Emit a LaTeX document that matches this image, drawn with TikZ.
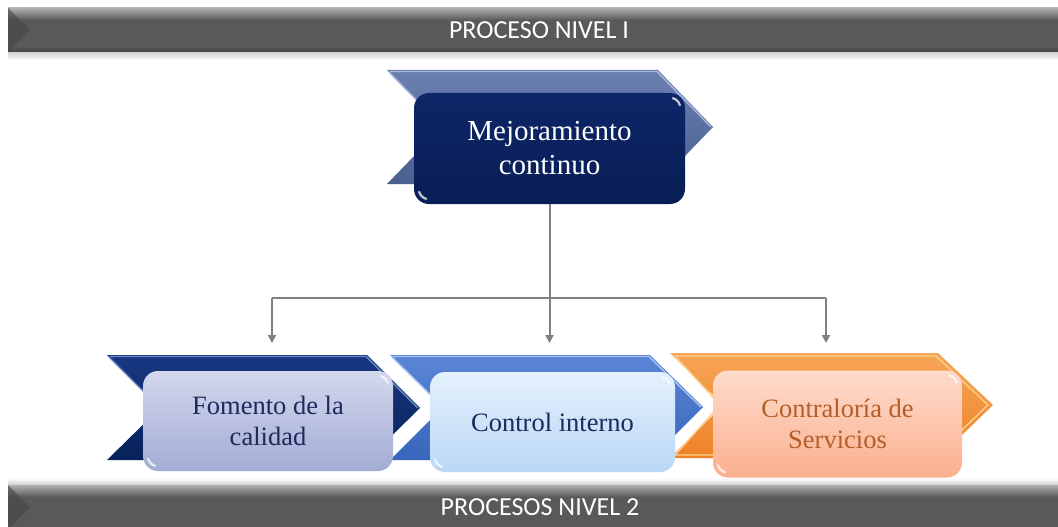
\documentclass[tikz,border=0pt]{standalone}
\usepackage{fontspec}
\setmainfont{Liberation Serif}
\newfontfamily\barfont{Carlito}
\usetikzlibrary{arrows.meta,calc}
\definecolor{barbody}{HTML}{595959}
\definecolor{bartop}{HTML}{B0B0B0}
\definecolor{bardark}{HTML}{454545}
\definecolor{linegrey}{HTML}{808080}
\definecolor{navytext}{HTML}{1B2B5C}
\definecolor{orangetext}{HTML}{B45E2A}
\definecolor{tchevT}{HTML}{6B7FB0}
\definecolor{tchevB}{HTML}{4B5F90}
\definecolor{tchevE}{HTML}{A8B8DC}
\definecolor{mcT}{HTML}{0D2667}
\definecolor{mcB}{HTML}{091E56}
\definecolor{chAT}{HTML}{183882}
\definecolor{chAB}{HTML}{08225A}
\definecolor{chAE}{HTML}{6C88C4}
\definecolor{chBT}{HTML}{5B86D6}
\definecolor{chBB}{HTML}{3866BB}
\definecolor{chBE}{HTML}{A6C2EE}
\definecolor{chCT}{HTML}{F7A556}
\definecolor{chCB}{HTML}{EE8228}
\definecolor{chCE}{HTML}{FCD08A}
\definecolor{bxAT}{HTML}{D3D8ED}
\definecolor{bxAB}{HTML}{A3ACD4}
\definecolor{bxBT}{HTML}{E4F0FD}
\definecolor{bxBB}{HTML}{BAD7F5}
\definecolor{bxCT}{HTML}{FEDBCB}
\definecolor{bxCB}{HTML}{FBB08E}
\definecolor{shadowgrey}{HTML}{D0D0D0}
\tikzset{
  x=1pt, y=-1pt,
  barlabel/.style={text=white, font=\barfont\fontsize{26}{30}\selectfont, inner sep=0pt},
  procbox/.style={rectangle, rounded corners=15pt, inner sep=0pt, align=center,
     font=\fontsize{26.5}{30.5}\selectfont},
  chevedge/.style={line width=1.4pt, line join=miter},
  glint/.style={draw=white, line width=2.2pt, line cap=round, opacity=0.75},
  conn/.style={draw=linegrey, line width=2pt},
  connarrow/.style={conn, -{Triangle[width=8pt,length=8pt]}},
}
\newcommand{\boxglint}[1]{%
  \draw[glint] ($(#1.north east)+(-15,15)$) ++(-15:10) arc[start angle=-15,end angle=-75,radius=10];
  \draw[glint] ($(#1.south west)+(15,-15)$) ++(105:10) arc[start angle=105,end angle=165,radius=10];
}
\begin{document}
\begin{tikzpicture}
\useasboundingbox (0,0) rectangle (1058,527);
\clip (0,0) rectangle (1058,527);
\fill[white] (0,0) rectangle (1058,527);

% ---------- top bar ----------
\shade[top color=shadowgrey, bottom color=white] (8,52) rectangle (1060,60);
\fill[barbody] (8,8) rectangle (1060,52);
\shade[top color=bartop, bottom color=barbody] (8,8) rectangle (1060,20);
\shade[top color=barbody, bottom color=bardark] (8,46) rectangle (1060,52);
\fill[bardark, opacity=0.6] (8,8) -- (30,30) -- (8,52) -- cycle;
\node[barlabel] (lvl1) at (539,30) {PROCESO NIVEL I};

% ---------- bottom bar ----------
\shade[top color=white, bottom color=shadowgrey] (8,478) rectangle (1060,485);
\fill[barbody] (8,485) rectangle (1060,535);
\shade[top color=bartop, bottom color=barbody] (8,485) rectangle (1060,497);
\fill[bardark, opacity=0.6] (8,485) -- (30,507) -- (8,529) -- cycle;
\node[barlabel] (lvl2) at (540,507) {PROCESOS NIVEL 2};

% ---------- top chevron + box ----------
\shade[top color=tchevT, bottom color=tchevB]
  (387,70) -- (658,70) -- (713,127) -- (658,184) -- (387,184) -- (442,127) -- cycle;
\draw[chevedge, draw=tchevE] (390,71.5) -- (657,71.5) -- (711,127);
\draw[chevedge, draw=tchevE] (389,72) -- (443,127);
\node[procbox, minimum width=271pt, minimum height=111pt,
      top color=mcT, bottom color=mcB, text=white,
      font=\fontsize{29}{34}\selectfont]
  (mc) at (549.5,148.5) {Mejoramiento\\continuo};
\boxglint{mc}

% ---------- bottom chevrons ----------
\shade[top color=chAT, bottom color=chAB]
  (107,355) -- (367,355) -- (420,408) -- (367,460) -- (107,460) -- (160,408) -- cycle;
\draw[chevedge, draw=chAE] (110,356.5) -- (366,356.5) -- (418,408);
\draw[chevedge, draw=chAE] (109,357) -- (160,408);

\shade[top color=chBT, bottom color=chBB]
  (390,355) -- (650,355) -- (703,407) -- (650,460) -- (390,460) -- (443,407) -- cycle;
\draw[chevedge, draw=chBE] (393,356.5) -- (649,356.5) -- (701,407);
\draw[chevedge, draw=chBE] (392,357) -- (443,407);

\shade[top color=chCT, bottom color=chCB]
  (670,353) -- (938,353) -- (993,405) -- (938,458) -- (670,458) -- (723,405) -- cycle;
\draw[chevedge, draw=chCE]
  (675,356) -- (936,356) -- (988,405) -- (936,455) -- (675,455) -- (720,405) -- cycle;

% ---------- level-2 boxes ----------
\node[procbox, minimum width=250pt, minimum height=100pt,
      top color=bxAT, bottom color=bxAB, text=navytext]
  (fc) at (268,421) {Fomento de la\\calidad};
\boxglint{fc}
\node[procbox, minimum width=245pt, minimum height=100pt,
      top color=bxBT, bottom color=bxBB, text=navytext]
  (ci) at (552.5,422) {Control interno};
\boxglint{ci}
\node[procbox, minimum width=249pt, minimum height=107pt,
      top color=bxCT, bottom color=bxCB, text=orangetext]
  (cs) at (837.5,424) {Contraloría de\\Servicios};
\boxglint{cs}

% ---------- connectors ----------
\coordinate (hubL) at (272,298);
\coordinate (hubR) at (826,298);
\coordinate (a1) at (272,343);
\coordinate (a2) at (549.5,343);
\coordinate (a3) at (826,343);
\draw[conn] (hubL) -- (hubR);
\draw[connarrow] (mc.south) -- (a2);
\draw[connarrow] (hubL) -- (a1);
\draw[connarrow] (hubR) -- (a3);
\end{tikzpicture}
\end{document}
